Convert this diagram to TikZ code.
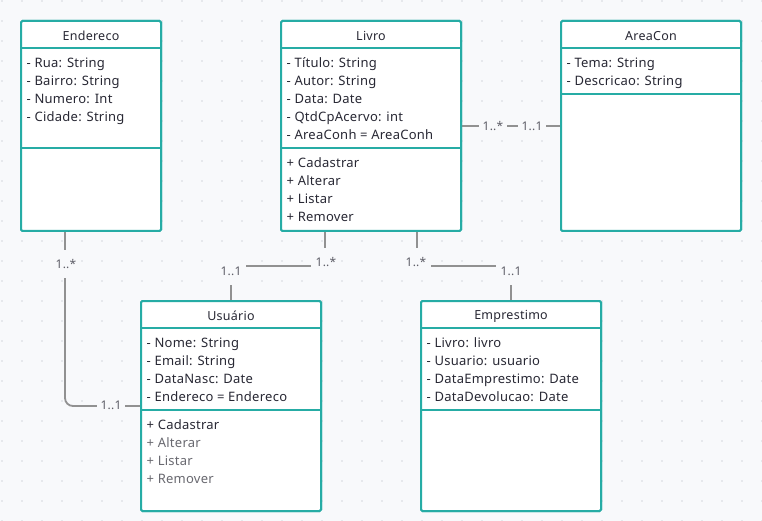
\documentclass[tikz,border=0pt]{standalone}
\usepackage{fontspec}
\setmainfont{Noto Sans}[LetterSpace=2]
\usepackage{xcolor}
\usetikzlibrary{positioning}

\definecolor{boxteal}{RGB}{38,172,165}
\definecolor{canvas}{RGB}{248,249,251}
\definecolor{griddot}{RGB}{212,216,222}
\definecolor{wire}{RGB}{145,145,145}
\definecolor{ink}{RGB}{40,40,52}
\definecolor{faded}{RGB}{105,105,112}

\tikzset{
  umlbox/.style={draw=boxteal, fill=white, line width=2pt, rounded corners=1.5pt,
    minimum width=180, minimum height=210, inner sep=0},
  sepline/.style={draw=boxteal, line width=2pt},
  title/.style={font=\fontsize{12.5}{15}\selectfont, text=ink, inner sep=0, yshift=-2},
  member/.style={anchor=west, font=\fontsize{13}{15}\selectfont, text=ink,
    inner sep=0, text height=9, text depth=3, xshift=1.5, yshift=-2.5},
  assoc/.style={draw=wire, line width=1.8pt},
  mult/.style={fill=canvas, text=ink!75, font=\fontsize{12}{14}\selectfont,
    inner sep=0, minimum width=30, minimum height=28},
}

\begin{document}
\begin{tikzpicture}[x=1pt,y=-1pt]
\useasboundingbox (0,0) rectangle (762,521);
\fill[canvas] (0,0) rectangle (762,521);
\foreach \x in {2,22,...,762}
  \foreach \y in {1,21,...,521}
    \fill[griddot] (\x,\y) circle (0.9);

% classes
\node[umlbox, minimum width=140] (endereco) at (91,126) {};
\node[umlbox] (livro) at (371,126) {};
\node[umlbox] (areacon) at (651,126) {};
\node[umlbox] (usuario) at (231,406) {};
\node[umlbox] (emprestimo) at (511,406) {};

% associations
\draw[assoc] ([xshift=45]livro.south west) -- ++(0,34) -| (usuario.north);
\draw[assoc] ([xshift=-45]livro.south east) -- ++(0,34) -| (emprestimo.north);
\draw[assoc, rounded corners=8] ([xshift=45]endereco.south west) |- (usuario.west);
\draw[assoc] (livro.east) -- (areacon.west);

\node[mult] (m1) at (326,262) {1..*};
\node[mult] (m2) at (231,271) {1..1};
\node[mult] (m3) at (416,262) {1..*};
\node[mult] (m4) at (511,271) {1..1};
\node[mult] (m5) at (66,264) {1..*};
\node[mult, minimum width=28, minimum height=20] (m6) at (111,405) {1..1};
\node[mult, minimum width=28, minimum height=20] (m7) at (493,126) {1..*};
\node[mult, minimum width=28, minimum height=20] (m8) at (532,126) {1..1};

% redraw boxes over line ends
\node[umlbox, minimum width=140] at (endereco) {};
\node[umlbox] at (livro) {};
\node[umlbox] at (areacon) {};
\node[umlbox] at (usuario) {};
\node[umlbox] at (emprestimo) {};

% compartments
\draw[sepline] ([yshift=-28]endereco.north west) -- ([yshift=-28]endereco.north east);
\draw[sepline] ([yshift=-128]endereco.north west) -- ([yshift=-128]endereco.north east);
\draw[sepline] ([yshift=-28]livro.north west) -- ([yshift=-28]livro.north east);
\draw[sepline] ([yshift=-128]livro.north west) -- ([yshift=-128]livro.north east);
\draw[sepline] ([yshift=-28]areacon.north west) -- ([yshift=-28]areacon.north east);
\draw[sepline] ([yshift=-74]areacon.north west) -- ([yshift=-74]areacon.north east);
\draw[sepline] ([yshift=-28]usuario.north west) -- ([yshift=-28]usuario.north east);
\draw[sepline] ([yshift=-110]usuario.north west) -- ([yshift=-110]usuario.north east);
\draw[sepline] ([yshift=-28]emprestimo.north west) -- ([yshift=-28]emprestimo.north east);
\draw[sepline] ([yshift=-110]emprestimo.north west) -- ([yshift=-110]emprestimo.north east);

% Endereco
\node[title] (enderecoT) at ([yshift=-14]endereco.north) {Endereco};
\node[member] (endereco1) at ([xshift=5,yshift=-42]endereco.north west) {- Rua: String};
\node[member] (endereco2) at ([xshift=5,yshift=-60]endereco.north west) {- Bairro: String};
\node[member] (endereco3) at ([xshift=5,yshift=-78]endereco.north west) {- Numero: Int};
\node[member] (endereco4) at ([xshift=5,yshift=-96]endereco.north west) {- Cidade: String};

% Livro
\node[title] (livroT) at ([yshift=-14]livro.north) {Livro};
\node[member] (livro1) at ([xshift=5,yshift=-42]livro.north west) {- Título: String};
\node[member] (livro2) at ([xshift=5,yshift=-60]livro.north west) {- Autor: String};
\node[member] (livro3) at ([xshift=5,yshift=-78]livro.north west) {- Data: Date};
\node[member] (livro4) at ([xshift=5,yshift=-96]livro.north west) {- QtdCpAcervo: int};
\node[member] (livro5) at ([xshift=5,yshift=-114]livro.north west) {- AreaConh = AreaConh};
\node[member] (livro6) at ([xshift=5,yshift=-142]livro.north west) {+ Cadastrar};
\node[member] (livro7) at ([xshift=5,yshift=-160]livro.north west) {+ Alterar};
\node[member] (livro8) at ([xshift=5,yshift=-178]livro.north west) {+ Listar};
\node[member] (livro9) at ([xshift=5,yshift=-196]livro.north west) {+ Remover};

% AreaCon
\node[title] (areaconT) at ([yshift=-14]areacon.north) {AreaCon};
\node[member] (areacon1) at ([xshift=5,yshift=-42]areacon.north west) {- Tema: String};
\node[member] (areacon2) at ([xshift=5,yshift=-60]areacon.north west) {- Descricao: String};

% Usuario
\node[title] (usuarioT) at ([yshift=-14]usuario.north) {Usuário};
\node[member] (usuario1) at ([xshift=5,yshift=-42]usuario.north west) {- Nome: String};
\node[member] (usuario2) at ([xshift=5,yshift=-60]usuario.north west) {- Email: String};
\node[member] (usuario3) at ([xshift=5,yshift=-78]usuario.north west) {- DataNasc: Date};
\node[member] (usuario4) at ([xshift=5,yshift=-96]usuario.north west) {- Endereco = Endereco};
\node[member] (usuario5) at ([xshift=5,yshift=-124]usuario.north west) {+ Cadastrar};
\node[member, text=faded] (usuario6) at ([xshift=5,yshift=-142]usuario.north west) {+ Alterar};
\node[member, text=faded] (usuario7) at ([xshift=5,yshift=-160]usuario.north west) {+ Listar};
\node[member, text=faded] (usuario8) at ([xshift=5,yshift=-178]usuario.north west) {+ Remover};

% Emprestimo
\node[title] (emprestimoT) at ([yshift=-14]emprestimo.north) {Emprestimo};
\node[member] (emprestimo1) at ([xshift=5,yshift=-42]emprestimo.north west) {- Livro: livro};
\node[member] (emprestimo2) at ([xshift=5,yshift=-60]emprestimo.north west) {- Usuario: usuario};
\node[member] (emprestimo3) at ([xshift=5,yshift=-78]emprestimo.north west) {- DataEmprestimo: Date};
\node[member] (emprestimo4) at ([xshift=5,yshift=-96]emprestimo.north west) {- DataDevolucao: Date};
\end{tikzpicture}
\end{document}
